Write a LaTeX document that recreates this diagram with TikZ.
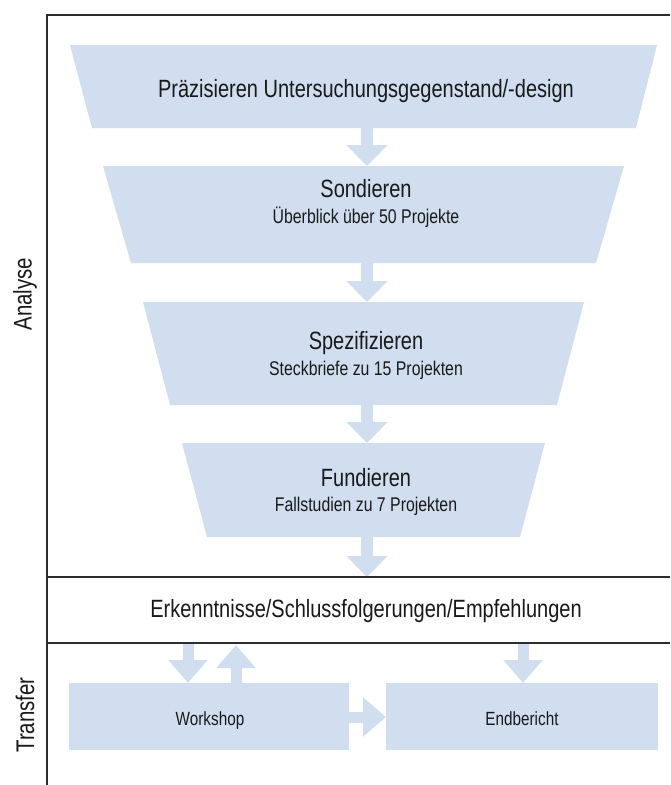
\documentclass[tikz,border=0pt]{standalone}
\usepackage{fontspec}
\setmainfont{Liberation Sans}[FakeStretch=0.8]
\usetikzlibrary{arrows.meta}
\definecolor{fillblue}{RGB}{209,222,240}
\definecolor{frameline}{RGB}{45,45,45}
\tikzset{
  funnel/.style={fill=fillblue, draw=none},
  boxfill/.style={fill=fillblue, draw=none},
  bigarrow/.style={draw=fillblue, line width=12pt, -{Triangle[length=21pt,width=40pt]}},
  smallarrow/.style={draw=fillblue, line width=11pt, -{Triangle[length=23pt,width=38pt]}},
  frame/.style={draw=frameline, line width=1.5pt},
  headtext/.style={font=\fontsize{25}{28}\selectfont, inner sep=0pt, anchor=base, text=black!90},
  subtext/.style={font=\fontsize{19.8}{22}\selectfont, inner sep=0pt, anchor=base, text=black!90},
  boxtext/.style={font=\fontsize{19.1}{21}\selectfont, inner sep=0pt, anchor=base, text=black!90},
  sidetext/.style={font=\fontsize{25.5}{28}\selectfont, inner sep=0pt, rotate=90, text=black!90}
}
\begin{document}
\begin{tikzpicture}[x=1pt,y=-1pt]
\useasboundingbox (0,0) rectangle (670,785);
\fill[white] (0,0) rectangle (670,785);
% funnel shapes
\fill[funnel] (70,45) -- (657,45) -- (636,128) -- (92,128) -- cycle;
\fill[funnel] (103,166) -- (624,166) -- (596,263) -- (131,263) -- cycle;
\fill[funnel] (143,302) -- (584,302) -- (557,405) -- (170,405) -- cycle;
\fill[funnel] (182,443) -- (545,443) -- (520,537) -- (207,537) -- cycle;
\coordinate (t1b) at (367,128);
\coordinate (t2t) at (367,166);
\coordinate (t2b) at (367,263);
\coordinate (t3t) at (367,302);
\coordinate (t3b) at (367,405);
\coordinate (t4t) at (367,443);
\coordinate (t4b) at (367,537);
\coordinate (ek1) at (367,577);
% texts
\node[headtext] (praez) at (366,97) {Präzisieren Untersuchungsgegenstand/-design};
\node[headtext] (sond) at (366,197) {Sondieren};
\node[subtext] (sondsub) at (366,223) {Überblick über 50 Projekte};
\node[headtext] (spez) at (366,349) {Spezifizieren};
\node[subtext] (spezsub) at (366,375) {Steckbriefe zu 15 Projekten};
\node[headtext] (fund) at (366,486) {Fundieren};
\node[subtext] (fundsub) at (366,511) {Fallstudien zu 7 Projekten};
% funnel arrows
\draw[bigarrow] (t1b) -- (t2t);
\draw[bigarrow] (t2b) -- (t3t);
\draw[bigarrow] (t3b) -- (t4t);
\draw[bigarrow] (t4b) -- (ek1);
% transfer boxes
\fill[boxfill] (69,683) rectangle (349,750);
\fill[boxfill] (386,683) rectangle (658,750);
\node[boxtext] (work) at (210,725) {Workshop};
\node[boxtext] (endb) at (522,725) {Endbericht};
\coordinate (wd1) at (188,643);
\coordinate (wd2) at (188,683);
\coordinate (wu1) at (236,683);
\coordinate (wu2) at (236,645);
\coordinate (ed1) at (523,643);
\coordinate (ed2) at (523,683);
\coordinate (wr) at (349,717);
\coordinate (el) at (386,717);
\draw[smallarrow] (wd1) -- (wd2);
\draw[smallarrow] (wu1) -- (wu2);
\draw[smallarrow] (ed1) -- (ed2);
\draw[smallarrow] (wr) -- (el);
% frame lines
\draw[frame] (47,785) -- (47,15) -- (670,15);
\draw[frame] (47,577) -- (670,577);
\draw[frame] (47,643) -- (670,643);
\node[headtext] (erk) at (366,617) {Erkenntnisse/Schlussfolgerungen/Empfehlungen};
\node[sidetext] (ana) at (25,294) {Analyse};
\node[sidetext] (trans) at (25,715) {Transfer};
\end{tikzpicture}
\end{document}
